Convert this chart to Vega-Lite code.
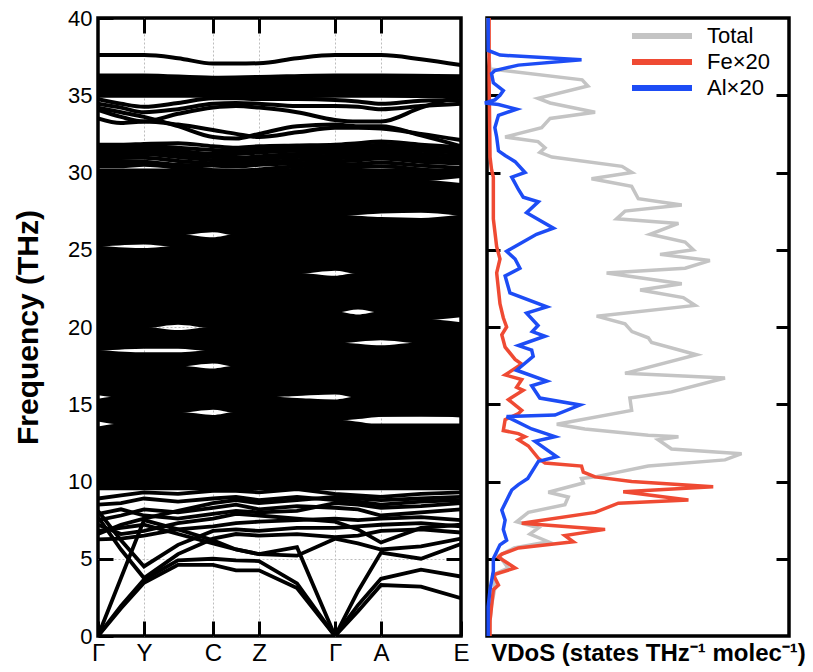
{
"$schema": "https://vega.github.io/schema/vega-lite/v6.json",
"autosize": {"type": "none"},
"padding": {"left": 98, "top": 18, "right": 715, "bottom": 654},
"background": "white",
"bounds": "flush",
"spacing": 26,
"config": {
  "view": {"stroke": "black", "strokeWidth": 3.5},
  "font": "Liberation Sans",
  "axis": {"labelFont": "Liberation Sans", "titleFont": "Liberation Sans", "labelColor": "black", "titleColor": "black"}
},
"datasets": {
  "kpos": [
    {"kp": "G1", "k": 0}, {"kp": "m1", "k": 23}, {"kp": "Y", "k": 46}, {"kp": "m2", "k": 80},
    {"kp": "C", "k": 115}, {"kp": "m3", "k": 138}, {"kp": "Z", "k": 161}, {"kp": "m4", "k": 199},
    {"kp": "G2", "k": 237}, {"kp": "m5", "k": 260}, {"kp": "A", "k": 283}, {"kp": "m6", "k": 323},
    {"kp": "E", "k": 363}
  ],
  "low": [
    {"b": "L1", "G1": 0, "m1": 1.8, "Y": 3.45, "m2": 4.6, "C": 4.6, "m3": 4.25, "Z": 4.25, "m4": 3.1, "G2": 0, "m5": 1.6, "A": 3.3, "m6": 3.2, "E": 2.45},
    {"b": "L2", "G1": 0, "m1": 1.95, "Y": 3.65, "m2": 4.9, "C": 5.0, "m3": 4.9, "Z": 4.85, "m4": 3.4, "G2": 0, "m5": 2.0, "A": 3.7, "m6": 4.3, "E": 3.85},
    {"b": "L3", "G1": 0, "m1": 3.75, "Y": 7.5, "m2": 6.9, "C": 6.2, "m3": 5.6, "Z": 5.3, "m4": 5.75, "G2": 0, "m5": 2.9, "A": 5.4, "m6": 5.0, "E": 5.95},
    {"b": "L4", "G1": 8.1, "m1": 6.2, "Y": 4.5, "m2": 5.9, "C": 6.8, "m3": 6.9, "Z": 6.8, "m4": 7.0, "G2": 7.0, "m5": 7.1, "A": 7.2, "m6": 7.3, "E": 7.1},
    {"b": "L5", "G1": 7.7, "m1": 5.6, "Y": 3.75, "m2": 5.3, "C": 6.3, "m3": 6.6, "Z": 6.5, "m4": 6.6, "G2": 6.4, "m5": 6.5, "A": 6.8, "m6": 6.9, "E": 6.7},
    {"b": "L6", "G1": 6.25, "m1": 6.3, "Y": 6.5, "m2": 6.9, "C": 7.1, "m3": 7.3, "Z": 7.4, "m4": 7.5, "G2": 7.6, "m5": 7.5, "A": 7.6, "m6": 7.7, "E": 7.5},
    {"b": "L7", "G1": 7.2, "m1": 6.6, "Y": 6.8, "m2": 7.3, "C": 7.6, "m3": 7.9, "Z": 7.8, "m4": 7.6, "G2": 7.4, "m5": 6.9, "A": 6.05, "m6": 7.0, "E": 7.2},
    {"b": "L8", "G1": 7.5, "m1": 7.8, "Y": 8.2, "m2": 8.0, "C": 8.3, "m3": 8.5, "Z": 8.2, "m4": 8.4, "G2": 8.3, "m5": 8.2, "A": 7.8, "m6": 8.0, "E": 8.2},
    {"b": "L9", "G1": 8.5, "m1": 8.6, "Y": 8.9, "m2": 8.7, "C": 8.9, "m3": 9.0, "Z": 8.8, "m4": 9.0, "G2": 8.8, "m5": 8.7, "A": 8.5, "m6": 8.7, "E": 8.8},
    {"b": "L10", "G1": 8.9, "m1": 9.1, "Y": 9.3, "m2": 9.2, "C": 9.4, "m3": 9.4, "Z": 9.3, "m4": 9.5, "G2": 9.2, "m5": 9.1, "A": 9.0, "m6": 9.2, "E": 9.3},
    {"b": "L11", "G1": 6.8, "m1": 7.0, "Y": 7.2, "m2": 6.6, "C": 6.0, "m3": 5.6, "Z": 5.3, "m4": 5.2, "G2": 6.3, "m5": 6.0, "A": 5.6, "m6": 5.8, "E": 6.3},
    {"b": "L12", "G1": 7.9, "m1": 8.2, "Y": 7.8, "m2": 7.6, "C": 7.9, "m3": 8.1, "Z": 8.0, "m4": 8.1, "G2": 8.6, "m5": 8.5, "A": 8.3, "m6": 8.4, "E": 8.6},
    {"b": "L13", "G1": 6.6, "m1": 7.2, "Y": 7.6, "m2": 8.1, "C": 8.6, "m3": 8.8, "Z": 8.6, "m4": 8.8, "G2": 9.0, "m5": 8.9, "A": 8.8, "m6": 8.9, "E": 9.0}
  ],
  "high": [
    {"b": "T1", "G1": 37.6, "m1": 37.6, "Y": 37.6, "m2": 37.4, "C": 37.05, "m3": 37.05, "Z": 37.07, "m4": 37.4, "G2": 37.6, "m5": 37.6, "A": 37.6, "m6": 37.33, "E": 36.95},
    {"b": "Ta", "G1": 34.75, "m1": 34.45, "Y": 34.25, "m2": 34.5, "C": 34.8, "m3": 34.8, "Z": 34.75, "m4": 34.75, "G2": 34.7, "m5": 34.6, "A": 34.45, "m6": 34.65, "E": 34.7},
    {"b": "Tb", "G1": 34.45, "m1": 34.2, "Y": 33.9, "m2": 34.1, "C": 34.45, "m3": 34.5, "Z": 34.45, "m4": 34.3, "G2": 34.3, "m5": 34.25, "A": 34.1, "m6": 34.3, "E": 34.45},
    {"b": "Tc", "G1": 34.2, "m1": 33.9, "Y": 33.6, "m2": 33.0, "C": 32.3, "m3": 32.2, "Z": 32.5, "m4": 33.0, "G2": 33.1, "m5": 33.0, "A": 33.0, "m6": 32.4, "E": 31.7},
    {"b": "Td", "G1": 34.05, "m1": 33.6, "Y": 33.3, "m2": 33.8, "C": 34.2, "m3": 34.3, "Z": 34.2, "m4": 33.9, "G2": 33.4, "m5": 33.3, "A": 33.3, "m6": 34.2, "E": 34.95},
    {"b": "Te", "G1": 33.5, "m1": 33.2, "Y": 33.3, "m2": 33.1, "C": 32.75, "m3": 32.5, "Z": 32.3, "m4": 32.6, "G2": 32.9, "m5": 32.9, "A": 32.85, "m6": 32.5, "E": 32.1},
    {"b": "T11", "G1": 30.4, "m1": 30.4, "Y": 30.5, "m2": 30.3, "C": 29.9, "m3": 29.9, "Z": 29.95, "m4": 30.2, "G2": 30.3, "m5": 30.35, "A": 30.4, "m6": 30.2, "E": 30.0},
    {"b": "T12", "G1": 30.8, "m1": 30.75, "Y": 30.7, "m2": 30.5, "C": 30.45, "m3": 30.4, "Z": 30.5, "m4": 30.6, "G2": 30.7, "m5": 30.8, "A": 30.9, "m6": 30.7, "E": 30.6},
    {"b": "T13", "G1": 31.1, "m1": 31.15, "Y": 31.2, "m2": 31.0, "C": 30.8, "m3": 30.75, "Z": 30.85, "m4": 31.0, "G2": 31.1, "m5": 31.2, "A": 31.3, "m6": 31.0, "E": 30.9},
    {"b": "T14", "G1": 31.45, "m1": 31.45, "Y": 31.5, "m2": 31.4, "C": 31.2, "m3": 31.2, "Z": 31.3, "m4": 31.4, "G2": 31.45, "m5": 31.5, "A": 31.6, "m6": 31.4, "E": 31.3},
    {"b": "T15", "G1": 31.8, "m1": 31.8, "Y": 31.85, "m2": 31.9, "C": 31.7, "m3": 31.6, "Z": 31.7, "m4": 31.75, "G2": 31.8, "m5": 31.9, "A": 32.0, "m6": 31.8, "E": 31.65},
    {"b": "T16", "G1": 30.6, "m1": 30.6, "Y": 30.55, "m2": 30.4, "C": 30.15, "m3": 30.1, "Z": 30.2, "m4": 30.4, "G2": 30.5, "m5": 30.55, "A": 30.65, "m6": 30.45, "E": 30.3},
    {"b": "T17", "G1": 30.95, "m1": 30.95, "Y": 30.95, "m2": 30.75, "C": 30.6, "m3": 30.55, "Z": 30.65, "m4": 30.8, "G2": 30.9, "m5": 31.0, "A": 31.1, "m6": 30.85, "E": 30.75},
    {"b": "T18", "G1": 31.3, "m1": 31.3, "Y": 31.35, "m2": 31.2, "C": 31.0, "m3": 30.95, "Z": 31.05, "m4": 31.2, "G2": 31.3, "m5": 31.35, "A": 31.45, "m6": 31.2, "E": 31.1},
    {"b": "T19", "G1": 31.6, "m1": 31.65, "Y": 31.7, "m2": 31.6, "C": 31.45, "m3": 31.4, "Z": 31.5, "m4": 31.6, "G2": 31.65, "m5": 31.7, "A": 31.8, "m6": 31.6, "E": 31.5}
  ],
  "fill": [
    {"b": "T2", "G1": 36.25, "Y": 36.25, "C": 36.1, "Z": 36.15, "G2": 36.25, "A": 36.25, "E": 36.2},
    {"b": "T3", "G1": 36.0, "Y": 36.0, "C": 35.9, "Z": 35.9, "G2": 36.0, "A": 36.0, "E": 35.95},
    {"b": "T4", "G1": 35.75, "Y": 35.75, "C": 35.7, "Z": 35.7, "G2": 35.75, "A": 35.75, "E": 35.7},
    {"b": "T5", "G1": 35.5, "Y": 35.45, "C": 35.45, "Z": 35.45, "G2": 35.5, "A": 35.5, "E": 35.45},
    {"b": "T6", "G1": 35.25, "Y": 35.3, "C": 35.2, "Z": 35.2, "G2": 35.25, "A": 35.25, "E": 35.2},
    {"b": "T7", "G1": 35.0, "Y": 35.0, "C": 35.0, "Z": 34.95, "G2": 35.0, "A": 35.0, "E": 34.95},
    {"b": "F1", "G1": 9.6, "E": 9.6},
    {"b": "F2", "G1": 9.85, "E": 9.85},
    {"b": "F3", "G1": 10.1, "E": 10.1},
    {"b": "F4", "G1": 10.35, "E": 10.35},
    {"b": "F5", "G1": 10.6, "E": 10.6},
    {"b": "F6", "G1": 10.85, "E": 10.85},
    {"b": "F7", "G1": 11.1, "E": 11.1},
    {"b": "F8", "G1": 11.35, "E": 11.35},
    {"b": "F9", "G1": 11.6, "E": 11.6},
    {"b": "F10", "G1": 11.85, "E": 11.85},
    {"b": "F11", "G1": 12.1, "E": 12.1},
    {"b": "F12", "G1": 12.35, "E": 12.35},
    {"b": "F13", "G1": 12.6, "E": 12.6},
    {"b": "F14", "G1": 12.85, "E": 12.85},
    {"b": "F15", "G1": 13.1, "E": 13.1},
    {"b": "F16", "G1": 13.35, "E": 13.35},
    {"b": "F17", "G1": 13.4, "m1": 13.6, "E": 13.6},
    {"b": "F18", "G1": 14.05, "m1": 13.85, "G2": 13.85, "m5": 13.7, "A": 13.5, "m6": 13.45, "E": 13.5},
    {"b": "F19", "G1": 14.1, "G2": 14.1, "m5": 14.2, "A": 14.35, "m6": 14.4, "E": 14.3},
    {"b": "F20", "G1": 14.35, "m2": 14.35, "C": 14.15, "m3": 14.35, "E": 14.35},
    {"b": "F21", "G1": 14.6, "m2": 14.6, "C": 14.8, "m3": 14.6, "E": 14.6},
    {"b": "F22", "G1": 14.85, "E": 14.85},
    {"b": "F23", "G1": 15.1, "E": 15.1},
    {"b": "F24", "G1": 15.2, "m1": 15.35, "Z": 15.35, "m4": 15.25, "G2": 15.15, "m5": 15.35, "E": 15.35},
    {"b": "F25", "G1": 15.75, "m1": 15.6, "Z": 15.6, "m4": 15.7, "G2": 15.8, "m5": 15.6, "E": 15.6},
    {"b": "F26", "G1": 15.85, "E": 15.85},
    {"b": "F27", "G1": 16.1, "E": 16.1},
    {"b": "F28", "G1": 16.35, "E": 16.35},
    {"b": "F29", "G1": 16.6, "E": 16.6},
    {"b": "F30", "G1": 16.85, "E": 16.85},
    {"b": "F31", "G1": 17.1, "E": 17.1},
    {"b": "F32", "G1": 17.35, "m2": 17.35, "C": 17.15, "m3": 17.35, "E": 17.35},
    {"b": "F33", "G1": 17.6, "m2": 17.6, "C": 17.8, "m3": 17.6, "E": 17.6},
    {"b": "F34", "G1": 17.85, "E": 17.85},
    {"b": "F35", "G1": 18.1, "E": 18.1},
    {"b": "F36", "G1": 18.35, "Y": 18.2, "m2": 18.2, "C": 18.35, "E": 18.35},
    {"b": "F37", "G1": 18.6, "Y": 18.75, "m2": 18.75, "C": 18.6, "E": 18.6},
    {"b": "F38", "G1": 18.85, "G2": 18.85, "A": 18.65, "m6": 18.85, "E": 18.85},
    {"b": "F39", "G1": 19.1, "G2": 19.1, "A": 19.3, "m6": 19.1, "E": 19.1},
    {"b": "F40", "G1": 19.35, "E": 19.35},
    {"b": "F41", "G1": 19.6, "E": 19.6},
    {"b": "F42", "G1": 19.85, "Y": 19.85, "m2": 19.65, "C": 19.85, "E": 19.85},
    {"b": "F43", "G1": 20.1, "Y": 20.1, "m2": 20.3, "C": 20.1, "E": 20.1},
    {"b": "F44", "G1": 20.35, "m6": 20.35, "E": 20.15},
    {"b": "F45", "G1": 20.6, "m6": 20.6, "E": 20.8},
    {"b": "F46", "G1": 20.85, "G2": 20.85, "m5": 20.65, "A": 20.85, "E": 20.85},
    {"b": "F47", "G1": 21.1, "G2": 21.1, "m5": 21.3, "A": 21.1, "E": 21.1},
    {"b": "F48", "G1": 21.35, "E": 21.35},
    {"b": "F49", "G1": 21.6, "E": 21.6},
    {"b": "F50", "G1": 21.85, "E": 21.85},
    {"b": "F51", "G1": 22.1, "E": 22.1},
    {"b": "F52", "G1": 22.35, "E": 22.35},
    {"b": "F53", "G1": 22.6, "E": 22.6},
    {"b": "F54", "G1": 22.85, "E": 22.85},
    {"b": "F55", "G1": 23.1, "E": 23.1},
    {"b": "F56", "G1": 23.35, "m4": 23.35, "G2": 23.15, "m5": 23.35, "E": 23.35},
    {"b": "F57", "G1": 23.6, "m4": 23.6, "G2": 23.8, "m5": 23.6, "E": 23.6},
    {"b": "F58", "G1": 23.85, "E": 23.85},
    {"b": "F59", "G1": 24.1, "E": 24.1},
    {"b": "F60", "G1": 24.35, "E": 24.35},
    {"b": "F61", "G1": 24.6, "E": 24.6},
    {"b": "F62", "G1": 24.85, "E": 24.85},
    {"b": "F63", "G1": 25.1, "Y": 24.95, "m2": 25.1, "E": 25.1},
    {"b": "F64", "G1": 25.35, "Y": 25.5, "m2": 25.35, "E": 25.35},
    {"b": "F65", "G1": 25.6, "E": 25.6},
    {"b": "F66", "G1": 25.85, "m2": 25.85, "C": 25.65, "m3": 25.85, "E": 25.85},
    {"b": "F67", "G1": 26.1, "m2": 26.1, "C": 26.3, "m3": 26.1, "E": 26.1},
    {"b": "F68", "G1": 26.35, "E": 26.35},
    {"b": "F69", "G1": 26.6, "E": 26.6},
    {"b": "F70", "G1": 26.85, "E": 26.85},
    {"b": "F71", "G1": 27.1, "G2": 27.1, "A": 26.95, "m6": 26.9, "E": 27.1},
    {"b": "F72", "G1": 27.35, "G2": 27.35, "A": 27.5, "m6": 27.55, "E": 27.35},
    {"b": "F73", "G1": 27.6, "E": 27.6},
    {"b": "F74", "G1": 27.85, "E": 27.85},
    {"b": "F75", "G1": 28.1, "E": 28.1},
    {"b": "F76", "G1": 28.35, "E": 28.35},
    {"b": "F77", "G1": 28.6, "E": 28.6},
    {"b": "F78", "G1": 28.85, "E": 28.85},
    {"b": "F79", "G1": 29.1, "E": 29.1},
    {"b": "F80", "G1": 29.35, "m6": 29.35, "E": 29.15},
    {"b": "F81", "G1": 29.6, "m6": 29.6, "E": 29.8},
    {"b": "F82", "G1": 29.85, "E": 29.85},
    {"b": "F83", "G1": 30.1, "E": 30.1}
  ],
  "vdos": [
    {"s": "Total", "f": 40, "v": 0.4}, {"s": "Total", "f": 37.5, "v": 0.6}, {"s": "Total", "f": 36.7, "v": 1},
    {"s": "Total", "f": 36.0, "v": 31.5}, {"s": "Total", "f": 35.6, "v": 33.4}, {"s": "Total", "f": 34.8, "v": 16.9},
    {"s": "Total", "f": 34.5, "v": 20.9}, {"s": "Total", "f": 33.9, "v": 35.8}, {"s": "Total", "f": 33.5, "v": 20.9},
    {"s": "Total", "f": 32.9, "v": 18.1}, {"s": "Total", "f": 32.3, "v": 6}, {"s": "Total", "f": 32.0, "v": 16.9},
    {"s": "Total", "f": 31.6, "v": 19.2}, {"s": "Total", "f": 31.3, "v": 17.5}, {"s": "Total", "f": 31.0, "v": 21.5},
    {"s": "Total", "f": 30.4, "v": 44.7}, {"s": "Total", "f": 30.0, "v": 48}, {"s": "Total", "f": 29.6, "v": 34.6},
    {"s": "Total", "f": 29.1, "v": 47.9}, {"s": "Total", "f": 28.3, "v": 50.1}, {"s": "Total", "f": 27.9, "v": 64.5},
    {"s": "Total", "f": 27.5, "v": 45.7}, {"s": "Total", "f": 27.0, "v": 42.9}, {"s": "Total", "f": 26.7, "v": 63.4},
    {"s": "Total", "f": 26.0, "v": 54}, {"s": "Total", "f": 25.5, "v": 65.6}, {"s": "Total", "f": 25.0, "v": 68.3},
    {"s": "Total", "f": 24.7, "v": 57.3}, {"s": "Total", "f": 24.3, "v": 73.8}, {"s": "Total", "f": 23.8, "v": 65.6},
    {"s": "Total", "f": 23.5, "v": 39.6}, {"s": "Total", "f": 22.8, "v": 64.5}, {"s": "Total", "f": 22.4, "v": 50.7},
    {"s": "Total", "f": 21.9, "v": 65.0}, {"s": "Total", "f": 21.4, "v": 68.9}, {"s": "Total", "f": 20.7, "v": 36.3},
    {"s": "Total", "f": 20.2, "v": 45.7}, {"s": "Total", "f": 19.7, "v": 48}, {"s": "Total", "f": 19.3, "v": 53.4},
    {"s": "Total", "f": 19.0, "v": 54.5}, {"s": "Total", "f": 18.2, "v": 69.4}, {"s": "Total", "f": 17.0, "v": 45.7},
    {"s": "Total", "f": 16.7, "v": 78.8}, {"s": "Total", "f": 15.8, "v": 61.1}, {"s": "Total", "f": 15.4, "v": 47.3},
    {"s": "Total", "f": 14.6, "v": 47.9}, {"s": "Total", "f": 13.7, "v": 23.1}, {"s": "Total", "f": 13.4, "v": 32.4},
    {"s": "Total", "f": 13.0, "v": 53.4}, {"s": "Total", "f": 12.9, "v": 63.4}, {"s": "Total", "f": 12.7, "v": 56.7},
    {"s": "Total", "f": 12.1, "v": 61.1}, {"s": "Total", "f": 11.8, "v": 84.3}, {"s": "Total", "f": 11.4, "v": 78.8},
    {"s": "Total", "f": 11.0, "v": 53.4}, {"s": "Total", "f": 10.3, "v": 35.8}, {"s": "Total", "f": 10.2, "v": 31.3},
    {"s": "Total", "f": 9.9, "v": 31.9}, {"s": "Total", "f": 9.3, "v": 20.3}, {"s": "Total", "f": 9.0, "v": 26.9},
    {"s": "Total", "f": 8.5, "v": 25.8}, {"s": "Total", "f": 8.0, "v": 13.7}, {"s": "Total", "f": 7.4, "v": 9.8},
    {"s": "Total", "f": 7.0, "v": 17.0}, {"s": "Total", "f": 6.6, "v": 14.2}, {"s": "Total", "f": 6.1, "v": 20.3},
    {"s": "Total", "f": 5.7, "v": 9}, {"s": "Total", "f": 5.2, "v": 4}, {"s": "Total", "f": 4.4, "v": 7},
    {"s": "Total", "f": 4.0, "v": 2.5}, {"s": "Total", "f": 3.0, "v": 2.5}, {"s": "Total", "f": 2.0, "v": 1.5},
    {"s": "Total", "f": 1.0, "v": 1}, {"s": "Total", "f": 0, "v": 0.8},
    {"s": "Fe×20", "f": 40, "v": 0.7}, {"s": "Fe×20", "f": 36, "v": 0.7}, {"s": "Fe×20", "f": 31, "v": 1},
    {"s": "Fe×20", "f": 30.2, "v": 1.5}, {"s": "Fe×20", "f": 29.7, "v": 2.1}, {"s": "Fe×20", "f": 27.0, "v": 2.1},
    {"s": "Fe×20", "f": 25.2, "v": 3.2}, {"s": "Fe×20", "f": 24.4, "v": 4.3}, {"s": "Fe×20", "f": 23.5, "v": 3.2},
    {"s": "Fe×20", "f": 21.5, "v": 4.3}, {"s": "Fe×20", "f": 20.6, "v": 5.4}, {"s": "Fe×20", "f": 20.0, "v": 6.5},
    {"s": "Fe×20", "f": 19.5, "v": 4.9}, {"s": "Fe×20", "f": 18.7, "v": 6}, {"s": "Fe×20", "f": 17.9, "v": 9.3},
    {"s": "Fe×20", "f": 17.6, "v": 11.5}, {"s": "Fe×20", "f": 16.9, "v": 6}, {"s": "Fe×20", "f": 16.6, "v": 11.5},
    {"s": "Fe×20", "f": 16.1, "v": 9.8}, {"s": "Fe×20", "f": 15.9, "v": 12}, {"s": "Fe×20", "f": 15.3, "v": 7.1},
    {"s": "Fe×20", "f": 14.6, "v": 11.5}, {"s": "Fe×20", "f": 14.4, "v": 10.4}, {"s": "Fe×20", "f": 14.0, "v": 6},
    {"s": "Fe×20", "f": 13.3, "v": 5.4}, {"s": "Fe×20", "f": 13.1, "v": 10.4}, {"s": "Fe×20", "f": 12.9, "v": 12.6},
    {"s": "Fe×20", "f": 12.7, "v": 10.4}, {"s": "Fe×20", "f": 12.3, "v": 13.7}, {"s": "Fe×20", "f": 11.5, "v": 17},
    {"s": "Fe×20", "f": 11.2, "v": 19.2}, {"s": "Fe×20", "f": 11.0, "v": 31.3}, {"s": "Fe×20", "f": 10.6, "v": 31.9},
    {"s": "Fe×20", "f": 10.3, "v": 35.8}, {"s": "Fe×20", "f": 10.0, "v": 47.9}, {"s": "Fe×20", "f": 9.66, "v": 74.9},
    {"s": "Fe×20", "f": 9.34, "v": 45.1}, {"s": "Fe×20", "f": 8.8, "v": 66.7}, {"s": "Fe×20", "f": 8.6, "v": 43.5},
    {"s": "Fe×20", "f": 8.0, "v": 35.8}, {"s": "Fe×20", "f": 7.3, "v": 11.5}, {"s": "Fe×20", "f": 6.9, "v": 39.1},
    {"s": "Fe×20", "f": 6.5, "v": 25.8}, {"s": "Fe×20", "f": 6.1, "v": 28.6}, {"s": "Fe×20", "f": 5.7, "v": 10.4},
    {"s": "Fe×20", "f": 5.3, "v": 4.9}, {"s": "Fe×20", "f": 5.1, "v": 3.8}, {"s": "Fe×20", "f": 4.4, "v": 9.3},
    {"s": "Fe×20", "f": 3.96, "v": 2.1}, {"s": "Fe×20", "f": 3.3, "v": 3.8}, {"s": "Fe×20", "f": 3.0, "v": 2.1},
    {"s": "Fe×20", "f": 1.9, "v": 1.5}, {"s": "Fe×20", "f": 1.0, "v": 1}, {"s": "Fe×20", "f": 0, "v": 1},
    {"s": "Al×20", "f": 40, "v": 0.4}, {"s": "Al×20", "f": 37.9, "v": 0.4}, {"s": "Al×20", "f": 37.6, "v": 4.3},
    {"s": "Al×20", "f": 37.3, "v": 31.3}, {"s": "Al×20", "f": 36.95, "v": 10.4}, {"s": "Al×20", "f": 36.6, "v": 2.6},
    {"s": "Al×20", "f": 36.4, "v": 1.5}, {"s": "Al×20", "f": 35.8, "v": 2.1}, {"s": "Al×20", "f": 35.3, "v": 5.4},
    {"s": "Al×20", "f": 35.0, "v": 4.3}, {"s": "Al×20", "f": 34.7, "v": 2.6}, {"s": "Al×20", "f": 34.5, "v": -0.7},
    {"s": "Al×20", "f": 34.4, "v": 3.8}, {"s": "Al×20", "f": 34.1, "v": 9.8}, {"s": "Al×20", "f": 33.7, "v": 3.8},
    {"s": "Al×20", "f": 32.9, "v": 2.6}, {"s": "Al×20", "f": 32.3, "v": 3.2}, {"s": "Al×20", "f": 31.4, "v": 3.8},
    {"s": "Al×20", "f": 31.1, "v": 6}, {"s": "Al×20", "f": 30.7, "v": 9.3}, {"s": "Al×20", "f": 30.0, "v": 12.6},
    {"s": "Al×20", "f": 29.7, "v": 8.2}, {"s": "Al×20", "f": 28.9, "v": 10.4}, {"s": "Al×20", "f": 28.4, "v": 12},
    {"s": "Al×20", "f": 28.1, "v": 17}, {"s": "Al×20", "f": 27.4, "v": 13.1}, {"s": "Al×20", "f": 26.4, "v": 22},
    {"s": "Al×20", "f": 26.0, "v": 16.4}, {"s": "Al×20", "f": 24.9, "v": 6.5}, {"s": "Al×20", "f": 24.4, "v": 9.3},
    {"s": "Al×20", "f": 23.8, "v": 10.9}, {"s": "Al×20", "f": 23.3, "v": 6}, {"s": "Al×20", "f": 22.2, "v": 7.6},
    {"s": "Al×20", "f": 21.3, "v": 19.8}, {"s": "Al×20", "f": 20.9, "v": 13.1}, {"s": "Al×20", "f": 20.1, "v": 16.9},
    {"s": "Al×20", "f": 19.7, "v": 15}, {"s": "Al×20", "f": 19.4, "v": 19.2}, {"s": "Al×20", "f": 18.8, "v": 10.4},
    {"s": "Al×20", "f": 18.5, "v": 14.8}, {"s": "Al×20", "f": 18.1, "v": 15.3}, {"s": "Al×20", "f": 17.2, "v": 9.8},
    {"s": "Al×20", "f": 16.5, "v": 19.8}, {"s": "Al×20", "f": 16.2, "v": 14.8}, {"s": "Al×20", "f": 15.4, "v": 17.5},
    {"s": "Al×20", "f": 14.95, "v": 30.8}, {"s": "Al×20", "f": 14.3, "v": 22.5}, {"s": "Al×20", "f": 14.2, "v": 6.5},
    {"s": "Al×20", "f": 13.4, "v": 14.8}, {"s": "Al×20", "f": 12.9, "v": 22.5}, {"s": "Al×20", "f": 12.6, "v": 15.9},
    {"s": "Al×20", "f": 11.6, "v": 23.1}, {"s": "Al×20", "f": 11.3, "v": 17}, {"s": "Al×20", "f": 10.2, "v": 13.5},
    {"s": "Al×20", "f": 9.8, "v": 10.4}, {"s": "Al×20", "f": 9.45, "v": 8.2}, {"s": "Al×20", "f": 8.15, "v": 4.9},
    {"s": "Al×20", "f": 7.5, "v": 6}, {"s": "Al×20", "f": 6.9, "v": 5.4}, {"s": "Al×20", "f": 6.2, "v": 6.5},
    {"s": "Al×20", "f": 5.9, "v": 4.3}, {"s": "Al×20", "f": 5.0, "v": 2.1}, {"s": "Al×20", "f": 4.2, "v": 2.1},
    {"s": "Al×20", "f": 3.0, "v": 1}, {"s": "Al×20", "f": 1.9, "v": 0.4}, {"s": "Al×20", "f": 0, "v": 0.4}
  ]
},
"hconcat": [
  {
    "width": 363,
    "height": 618,
    "layer": [
      {
        "data": {"name": "low"},
        "transform": [
          {"fold": ["G1", "m1", "Y", "m2", "C", "m3", "Z", "m4", "G2", "m5", "A", "m6", "E"], "as": ["kp", "f"]},
          {"filter": "isValid(datum.f)"},
          {"lookup": "kp", "from": {"data": {"name": "kpos"}, "key": "kp", "fields": ["k"]}}
        ],
        "mark": {"type": "line", "interpolate": "linear", "strokeWidth": 3.8, "color": "black", "clip": true},
        "encoding": {
          "x": {"field": "k", "type": "quantitative", "scale": {"domain": [0, 363], "nice": false, "zero": false},
            "axis": {"orient": "bottom", "values": [0, 46, 115, 161, 237, 283, 363],
              "labelExpr": "datum.value == 46 ? 'Y' : datum.value == 115 ? 'C' : datum.value == 161 ? 'Z' : datum.value == 283 ? 'A' : datum.value == 363 ? 'E' : 'Γ'",
              "labelFontSize": 24, "labelPadding": 20, "tickSize": -15, "tickWidth": 3, "tickColor": "black",
              "grid": true, "gridColor": "#bdbdbd", "gridDash": [2, 2], "gridWidth": 1,
              "gridOpacity": {"condition": {"test": "datum.value <= 0 || datum.value >= 363", "value": 0}, "value": 1},
              "domain": false, "title": null, "labelFlush": false, "labelOverlap": false}},
          "y": {"field": "f", "type": "quantitative", "scale": {"domain": [0, 40], "nice": false, "zero": false},
            "axis": {"orient": "left", "values": [0, 5, 10, 15, 20, 25, 30, 35, 40],
              "labelFontSize": 22, "labelPadding": 21, "tickSize": -15, "tickWidth": 3, "tickColor": "black",
              "grid": true, "gridColor": "#bdbdbd", "gridDash": [2, 2], "gridWidth": 1,
              "gridOpacity": {"condition": {"test": "datum.value <= 0 || datum.value >= 40", "value": 0}, "value": 1},
              "domain": false, "labelFlush": false, "labelOverlap": false,
              "title": "Frequency (THz)", "titleFontSize": 30, "titleFontWeight": "bold",
              "titleX": -70, "titleY": 309, "titleAngle": -90, "titleAlign": "center", "titleBaseline": "middle"}},
          "detail": {"field": "b", "type": "nominal"}
        }
      },
      {
        "data": {"name": "fill"},
        "transform": [
          {"fold": ["G1", "m1", "Y", "m2", "C", "m3", "Z", "m4", "G2", "m5", "A", "m6", "E"], "as": ["kp", "f"]},
          {"filter": "isValid(datum.f)"},
          {"lookup": "kp", "from": {"data": {"name": "kpos"}, "key": "kp", "fields": ["k"]}}
        ],
        "mark": {"type": "line", "interpolate": "monotone", "strokeWidth": 5, "color": "black", "clip": true},
        "encoding": {
          "x": {"field": "k", "type": "quantitative", "scale": {"domain": [0, 363], "nice": false, "zero": false}, "axis": null},
          "y": {"field": "f", "type": "quantitative", "scale": {"domain": [0, 40], "nice": false, "zero": false}, "axis": null},
          "detail": {"field": "b", "type": "nominal"}
        }
      },
      {
        "data": {"name": "high"},
        "transform": [
          {"fold": ["G1", "m1", "Y", "m2", "C", "m3", "Z", "m4", "G2", "m5", "A", "m6", "E"], "as": ["kp", "f"]},
          {"filter": "isValid(datum.f)"},
          {"lookup": "kp", "from": {"data": {"name": "kpos"}, "key": "kp", "fields": ["k"]}}
        ],
        "mark": {"type": "line", "interpolate": "monotone", "strokeWidth": 4, "color": "black", "clip": true},
        "encoding": {
          "x": {"field": "k", "type": "quantitative", "scale": {"domain": [0, 363], "nice": false, "zero": false},
            "axis": {"orient": "top", "values": [46, 115, 161, 237, 283], "labels": false,
              "tickSize": -15, "tickWidth": 3, "tickColor": "black", "grid": false, "domain": false, "title": null}},
          "y": {"field": "f", "type": "quantitative", "scale": {"domain": [0, 40], "nice": false, "zero": false},
            "axis": {"orient": "right", "values": [5, 10, 15, 20, 25, 30, 35], "labels": false,
              "tickSize": -15, "tickWidth": 3, "tickColor": "black", "grid": false, "domain": false, "title": null}},
          "detail": {"field": "b", "type": "nominal"}
        }
      }
    ],
    "resolve": {"axis": {"x": "independent", "y": "independent"}}
  },
  {
    "width": 302,
    "height": 618,
    "data": {"name": "vdos"},
    "layer": [
      {
        "transform": [{"filter": "datum.s === 'Total'"}],
        "mark": {"type": "line", "strokeWidth": 3.5},
        "encoding": {
          "x": {"field": "v", "type": "quantitative", "scale": {"domain": [0, 100], "nice": false, "zero": false},
            "axis": {"orient": "bottom", "labels": false, "ticks": false, "domain": false, "grid": false,
              "title": "VDoS (states THz⁻¹ molec⁻¹)", "titleFontSize": 24, "titleFontWeight": "bold",
              "titleX": 161, "titleY": 17, "titleAlign": "center", "titleBaseline": "middle"}},
          "y": {"field": "f", "type": "quantitative", "scale": {"domain": [0, 40], "nice": false, "zero": false},
            "axis": {"orient": "left", "values": [5, 10, 15, 20, 25, 30, 35], "labels": false,
              "tickSize": -13, "tickWidth": 3, "tickColor": "black", "grid": false, "domain": false, "title": null}},
          "color": {"field": "s", "type": "nominal",
            "scale": {"domain": ["Total", "Fe×20", "Al×20"], "range": ["#c4c4c4", "#ef4a33", "#1d4cf5"]},
            "legend": {"orient": "none", "legendX": 551, "legendY": 5, "title": null,
              "symbolType": "M-3,0L3,0", "symbolSize": 400, "symbolStrokeWidth": 6, "symbolOpacity": 1,
              "labelFontSize": 22, "labelFont": "Liberation Sans", "labelColor": "black",
              "labelOffset": 32, "rowPadding": 1, "padding": 0}},
          "order": {"field": "f", "type": "quantitative"}
        }
      },
      {
        "transform": [{"filter": "datum.s !== 'Total'"}],
        "mark": {"type": "line", "strokeWidth": 3.5},
        "encoding": {
          "x": {"field": "v", "type": "quantitative", "scale": {"domain": [0, 100], "nice": false, "zero": false}, "axis": null},
          "y": {"field": "f", "type": "quantitative", "scale": {"domain": [0, 40], "nice": false, "zero": false},
            "axis": {"orient": "right", "values": [5, 10, 15, 20, 25, 30, 35], "labels": false,
              "tickSize": -13, "tickWidth": 3, "tickColor": "black", "grid": false, "domain": false, "title": null}},
          "color": {"field": "s", "type": "nominal",
            "scale": {"domain": ["Total", "Fe×20", "Al×20"], "range": ["#c4c4c4", "#ef4a33", "#1d4cf5"]},
            "legend": {"orient": "none", "legendX": 551, "legendY": 5, "title": null,
              "symbolType": "M-3,0L3,0", "symbolSize": 400, "symbolStrokeWidth": 6, "symbolOpacity": 1,
              "labelFontSize": 22, "labelFont": "Liberation Sans", "labelColor": "black",
              "labelOffset": 32, "rowPadding": 1, "padding": 0}},
          "order": {"field": "f", "type": "quantitative"}
        }
      }
    ],
    "resolve": {"axis": {"x": "independent", "y": "independent"}}
  }
]
}
